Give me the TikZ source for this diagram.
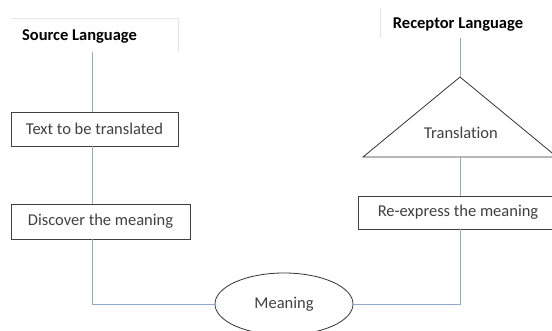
\documentclass[tikz,border=0pt]{standalone}
\usepackage{fontspec}
\setmainfont[Ligatures={NoCommon}]{Carlito}
\usetikzlibrary{shapes.geometric}
\definecolor{linkblue}{HTML}{8FAACB}
\definecolor{boxtext}{HTML}{404040}
\begin{document}
\begin{tikzpicture}[x=1pt,y=-1pt,
  conn/.style={draw=linkblue, line width=0.9pt},
  faint/.style={draw=black!10, line width=0.8pt},
  boxnode/.style={draw=black!75, line width=0.8pt, rectangle, inner sep=0pt,
    font=\fontsize{16.5}{19}\selectfont, text=boxtext},
  titlenode/.style={font=\fontsize{16.5}{19}\selectfont\bfseries, text=black, inner sep=0pt},
  plaintext/.style={font=\fontsize{16.5}{19}\selectfont, text=boxtext, inner sep=0pt}]
\useasboundingbox (0,0) rectangle (552,331);
\clip (0,0) rectangle (552,331);
% titles
\draw[faint] (11,18) -- (178,18) -- (178,52);
\node[titlenode] (src) at (79.5,36) {Source Language};
\draw[faint] (380,8) -- (380,38);
\node[titlenode] (rec) at (458,25) {Receptor Language};
% left column
\coordinate (s1) at (92,52);
\node[boxnode, minimum width=167pt, minimum height=34pt] (tb) at (94.5,129) {Text to be translated};
\node[boxnode, minimum width=179pt, minimum height=35pt] (dm) at (100.5,221.5) {Discover the meaning};
% meaning
\node[ellipse, draw=black!80, line width=0.8pt, minimum width=138pt, minimum height=62pt,
  inner sep=0pt, font=\fontsize{16.5}{19}\selectfont, text=boxtext] (mean) at (284,304) {Meaning};
% right column
\coordinate (r1) at (460,38);
\coordinate (apex) at (460,77);
\coordinate (bl) at (363,157);
\coordinate (br) at (557,157);
\coordinate (base) at (460,157);
\draw[draw=black!80, line width=0.8pt] (apex) -- (br) -- (bl) -- cycle;
\node[plaintext] (trans) at (461,133) {Translation};
\node[boxnode, minimum width=200pt, minimum height=33pt] (rx) at (458,212.5) {Re-express the meaning};
% connectors
\draw[conn] (s1) -- (s1 |- tb.north);
\draw[conn] (tb.south -| s1) -- (dm.north -| s1);
\draw[conn] (dm.south -| s1) |- (mean.west);
\draw[conn] (mean.east) -| (rx.south -| apex);
\draw[conn] (rx.north -| apex) -- (base);
\draw[conn] (r1) -- (apex);
\end{tikzpicture}
\end{document}
